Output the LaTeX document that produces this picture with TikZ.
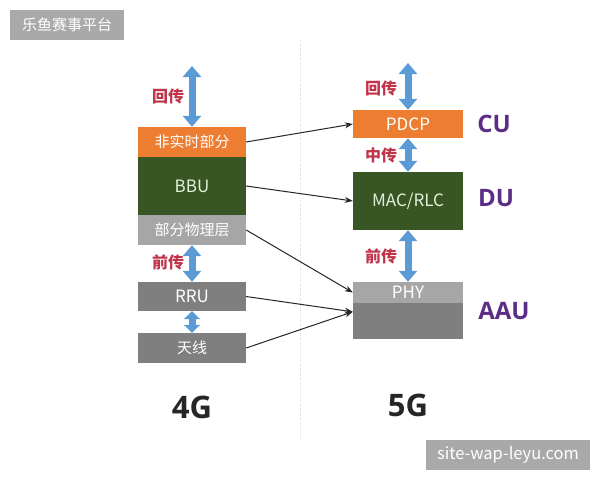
\documentclass[tikz,border=0pt]{standalone}
\usepackage{fontspec}
\setmainfont{Noto Sans CJK SC}
\newfontfamily\bigfont{Open Sans}
\usetikzlibrary{arrows.meta,calc}
\definecolor{orng}{HTML}{ED7D31}
\definecolor{dgreen}{HTML}{375623}
\definecolor{lgray}{HTML}{A6A6A6}
\definecolor{mgray}{HTML}{7F7F7F}
\definecolor{blu}{HTML}{5B9BD5}
\definecolor{redl}{HTML}{C0354B}
\definecolor{purp}{HTML}{5C2D86}
\definecolor{wm}{HTML}{A9A9A9}
\definecolor{lgreen}{HTML}{E2F0D9}
\begin{document}
\begin{tikzpicture}[x=1pt,y=-1pt,
  box/.style={rectangle, inner sep=0pt, font=\fontsize{15}{15}\selectfont, text=white},
  lat/.style={font=\fontsize{17}{17}\selectfont},
  lbox/.style={box, minimum width=108pt},
  rbox/.style={box, minimum width=110pt},
  barrow/.style={blu, line width=7pt, {Triangle[width=18pt,length=11pt]}-{Triangle[width=18pt,length=11pt]}},
  sarrow/.style={blu, line width=7pt, {Triangle[width=16pt,length=8pt]}-{Triangle[width=16pt,length=8pt]}},
  conn/.style={black!85, line width=1pt, -{Stealth[length=8pt,width=6pt]}},
  lbl/.style={text=redl, font=\bfseries\fontsize{16}{16}\selectfont},
  gen/.style={font=\bigfont\bfseries\fontsize{31}{31}\selectfont, text=black!85},
  unit/.style={font=\bigfont\bfseries\fontsize{24}{24}\selectfont, text=purp},
  wmbox/.style={fill=wm, text=white, inner sep=0pt, minimum height=30pt}
]
\useasboundingbox (0,0) rectangle (600,480);
\fill[white] (0,0) rectangle (600,480);

% divider
\draw[black!15, dash pattern=on 1pt off 1.5pt] (300,40) -- (300,440);

% left column
\node[lbox, fill=orng, minimum height=30pt] (nrt) at (192,142) {非实时部分};
\node[lbox, lat, fill=dgreen, minimum height=58pt, text=lgreen] (bbu) at (192,186) {BBU};
\node[lbox, fill=lgray, minimum height=30pt] (phyl) at (192,230) {部分物理层};
\node[lbox, lat, fill=mgray, minimum height=29pt] (rru) at (192,296.5) {RRU};
\node[lbox, fill=mgray, minimum height=30pt] (ant) at (192,348) {天线};

% right column
\node[rbox, lat, fill=orng, minimum height=28pt] (pdcp) at (408,124) {PDCP};
\node[rbox, lat, fill=dgreen, minimum height=58pt, text=lgreen] (mac) at (408,201) {MAC/RLC};
\node[rbox, lat, fill=lgray, minimum height=21pt] (phy) at (408,292.5) {PHY};
\node[rbox, fill=mgray, minimum height=36pt] (aau) at (408,321) {};

% blue arrows
\coordinate (ltop) at (192,66);
\coordinate (rtop) at (408,63);
\draw[barrow] (ltop) -- (nrt.north);
\draw[barrow] (phyl.south) -- (rru.north);
\draw[sarrow] (rru.south) -- (ant.north);
\draw[barrow] (rtop) -- (pdcp.north);
\draw[barrow] (pdcp.south) -- (mac.north);
\draw[barrow] (mac.south) -- (phy.north);

% labels
\node[lbl] (l1) at (168,96) {回传};
\node[lbl] (l2) at (168,262) {前传};
\node[lbl] (l3) at (381,88) {回传};
\node[lbl] (l4) at (381,155) {中传};
\node[lbl] (l5) at (381,256) {前传};

\node[unit] (cu) at (494,124) {CU};
\node[unit] (du) at (496,198) {DU};
\node[unit] (aaul) at (504,311) {AAU};

\node[gen] (g4) at (192,407) {4G};
\node[gen] (g5) at (408,405) {5G};

% connectors
\coordinate (conv) at ($(aau.north west)+(0,9)$);
\draw[conn] (nrt.east) -- (pdcp.west);
\draw[conn] (bbu.east) -- (mac.west);
\draw[conn] (phyl.east) -- (phy.west);
\draw[conn] (rru.east) -- (conv);
\draw[conn] (ant.east) -- (conv);

% watermarks
\node[wmbox, minimum width=114pt, font=\fontsize{15}{15}\selectfont] (wm1) at (67,25) {乐鱼赛事平台};
\node[wmbox, minimum width=164pt, font=\fontsize{16.5}{16.5}\selectfont] (wm2) at (508,455) {site-wap-leyu.com};
\end{tikzpicture}
\end{document}
